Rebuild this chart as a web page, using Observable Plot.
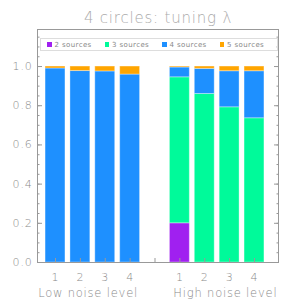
<!DOCTYPE html>
<html>
<head>
<meta charset="utf-8">
<script src="https://cdn.jsdelivr.net/npm/d3@7"></script>
<script src="https://cdn.jsdelivr.net/npm/@observablehq/plot@0.6"></script>
<style>
  html, body { margin: 0; padding: 0; background: #fff; }
  #wrap { position: relative; width: 300px; height: 300px; font-family: "DejaVu Sans", sans-serif; }
  #wrap svg text { letter-spacing: 0.8px; font-weight: 200; }
  #legend { position: absolute; left: 40px; top: 38px; width: 230px; height: 11px; border: 1px solid #ddd;
            display: flex; align-items: center; padding-left: 6px; box-sizing: content-box; }
  #legend .item { width: 59px; display: flex; align-items: center; font-size: 7px; color: #888; letter-spacing: 0.4px; }
  #legend .sw { width: 4.5px; height: 4.5px; margin-right: 3px; flex: none; }
</style>
</head>
<body>
<div id="wrap"></div>
<script>
// ---- data ----
const positions = [1, 2, 3, 4, 6, 7, 8, 9];
const tickLabels = ["1", "2", "3", "4", "1", "2", "3", "4"];
const seriesNames = ["2 sources", "3 sources", "4 sources", "5 sources"];
const seriesColors = ["#a020f0", "#00fa9a", "#1e90ff", "#ffa500"];
const src2 = [0, 0, 0, 0, 0.200, 0, 0, 0];
const src3 = [0, 0, 0, 0, 0.745, 0.860, 0.792, 0.736];
const src4 = [0.990, 0.977, 0.975, 0.959, 0.050, 0.128, 0.184, 0.240];
const src5 = [0.010, 0.023, 0.025, 0.041, 0.005, 0.012, 0.024, 0.024];
const groupLabels = ["Low noise level", "High noise level"];
const groupLabelPos = [2.31, 7.83];
const title = "4 circles: tuning λ";
const majorTicks = [0, 0.2, 0.4, 0.6, 0.8, 1.0];
const minorTicks = d3.range(0, 1.16, 0.05);
const xTicks = [1, 2, 3, 4, 5, 6, 7, 8, 9];

// ---- build stacked rows ----
const series = [src2, src3, src4, src5];
const rows = [];
positions.forEach((p, i) => {
  let acc = 0;
  series.forEach((s, k) => {
    const v = s[i];
    if (v > 0) rows.push({pos: p, series: seriesNames[k], y1: acc, y2: acc + v});
    acc += v;
  });
});

const axisColor = "#999";
const textColor = "#888";

const chart = Plot.plot({
  width: 300,
  height: 300,
  marginLeft: 37,
  marginRight: 22,
  marginTop: 29,
  marginBottom: 38,
  style: {fontFamily: "DejaVu Sans, sans-serif", background: "white", color: textColor},
  x: {domain: [0.276, 9.965], axis: null},
  y: {domain: [0, 1.189], axis: null},
  color: {domain: seriesNames, range: seriesColors},
  marks: [
    Plot.rectY(rows, {x1: d => d.pos - 0.4, x2: d => d.pos + 0.4, y1: "y1", y2: "y2", fill: "series",
                      stroke: "white", strokeOpacity: 0.35, strokeWidth: 1}),
    Plot.frame({stroke: axisColor}),
    // left ticks (inward)
    Plot.axisY(minorTicks, {anchor: "left", tickSize: 2.5, dx: 2.5, fill: "none", label: null, stroke: axisColor}),
    Plot.axisY(majorTicks, {anchor: "left", tickSize: 5, dx: 5, fill: "none", label: null, stroke: axisColor}),
    // right ticks (inward)
    Plot.axisY(minorTicks, {anchor: "right", tickSize: 2.5, dx: -2.5, fill: "none", label: null, stroke: axisColor}),
    Plot.axisY(majorTicks, {anchor: "right", tickSize: 5, dx: -5, fill: "none", label: null, stroke: axisColor}),
    // y labels
    Plot.axisY(majorTicks, {anchor: "left", tickSize: 0, tickPadding: 5, tickFormat: d3.format(".1f"),
                            fill: textColor, fontSize: 11, label: null}),
    // bottom ticks (inward)
    Plot.axisX(xTicks, {anchor: "bottom", tickSize: 4, dy: -4, fill: "none", label: null, stroke: axisColor}),
    // x labels
    Plot.axisX(positions, {anchor: "bottom", tickSize: 0, tickPadding: 11, fill: textColor, fontSize: 11,
                           label: null, tickFormat: (d, i) => tickLabels[positions.indexOf(d)]}),
    // group labels
    Plot.text(groupLabels, {x: (d, i) => groupLabelPos[i], frameAnchor: "bottom", lineAnchor: "bottom",
                            dy: 34.5, fontSize: 11.5, fill: textColor}),
    // title
    Plot.text([title], {frameAnchor: "top", lineAnchor: "bottom", dy: -6.3, fontSize: 15, fill: "#aaa"})
  ]
});

const wrap = document.getElementById("wrap");
wrap.appendChild(chart);

// legend
const legend = document.createElement("div");
legend.id = "legend";
seriesNames.forEach((name, k) => {
  const item = document.createElement("div");
  item.className = "item";
  const sw = document.createElement("span");
  sw.className = "sw";
  sw.style.background = seriesColors[k];
  const t = document.createElement("span");
  t.textContent = name;
  item.appendChild(sw);
  item.appendChild(t);
  legend.appendChild(item);
});
wrap.appendChild(legend);
</script>
</body>
</html>
